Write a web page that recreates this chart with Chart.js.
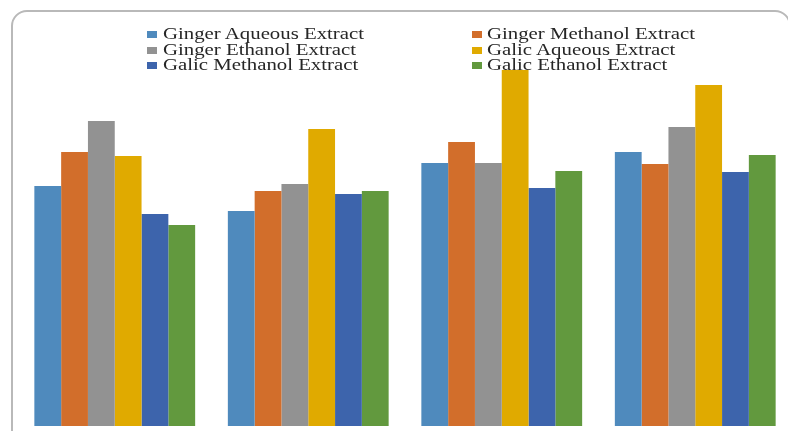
<!DOCTYPE html>
<html>
<head>
<meta charset="utf-8">
<script src="https://cdn.jsdelivr.net/npm/chart.js@4/dist/chart.umd.min.js"></script>
<style>
  html, body { margin: 0; padding: 0; background: #fff; overflow: hidden; }
  #wrap { position: relative; width: 788px; height: 431px; overflow: hidden; }
  #frame {
    position: absolute; left: 11px; top: 10px; width: 780px; height: 440px;
    border: 2px solid #b9b9b9; border-radius: 16px; box-sizing: border-box;
  }
  #chartBox { position: absolute; left: 0; top: 0; width: 800px; height: 431px; }
  #legend { position: absolute; left: 0; top: 0; width: 788px; height: 80px; pointer-events: none; }
  .sw { position: absolute; width: 10px; height: 7px; }
  .lbl {
    position: absolute; font-family: "Liberation Serif", "Times New Roman", serif;
    font-size: 16px; line-height: 16px; color: #262626; white-space: nowrap;
    transform: scaleX(1.3); transform-origin: 0 0;
  }
</style>
</head>
<body>
<div id="wrap">
  <div id="frame"></div>
  <div id="chartBox"><canvas id="c"></canvas></div>
  <div id="legend"></div>
</div>
<script>
// Sample groups
const categories = ['1', '2', '3', '4'];

const seriesNames = [
  'Ginger Aqueous Extract',
  'Ginger Methanol Extract',
  'Ginger Ethanol Extract',
  'Galic Aqueous Extract',
  'Galic Methanol Extract',
  'Galic Ethanol Extract'
];

const gingerAqueous  = [24.0, 21.5, 26.3, 27.4];
const gingerMethanol = [27.4, 23.5, 28.4, 26.2];
const gingerEthanol  = [30.5, 24.2, 26.3, 29.9];
const galicAqueous   = [27.0, 29.7, 35.6, 34.1];
const galicMethanol  = [21.2, 23.2, 23.8, 25.4];
const galicEthanol   = [20.1, 23.5, 25.5, 27.1];

const seriesValues = [gingerAqueous, gingerMethanol, gingerEthanol, galicAqueous, galicMethanol, galicEthanol];
const seriesColors = ['#4f8abd', '#d26e2b', '#929292', '#e0aa00', '#3d64ac', '#62993e'];

const datasets = seriesNames.map((name, i) => ({
  label: name,
  data: seriesValues[i],
  backgroundColor: seriesColors[i],
  borderWidth: 0,
  barPercentage: 1.0,
  categoryPercentage: 0.831
}));

new Chart(document.getElementById('c'), {
  type: 'bar',
  data: { labels: categories, datasets },
  options: {
    responsive: true,
    maintainAspectRatio: false,
    animation: false,
    layout: { padding: { left: 18, right: 8, top: 26, bottom: 5 } },
    plugins: { legend: { display: false }, tooltip: { enabled: false } },
    scales: {
      x: { display: false, grid: { display: false } },
      y: { display: false, min: 0, max: 40, grid: { display: false } }
    }
  }
});

// Two-column legend, filled row by row
const legend = document.getElementById('legend');
const colX = [[147, 163], [472, 487]];
const rowTop = [26, 41.5, 57];
const rowSw = [31, 46.5, 62];
seriesNames.forEach((name, i) => {
  const col = i % 2, row = Math.floor(i / 2);
  const sw = document.createElement('div');
  sw.className = 'sw';
  sw.style.left = colX[col][0] + 'px';
  sw.style.top = rowSw[row] + 'px';
  sw.style.background = seriesColors[i];
  legend.appendChild(sw);
  const t = document.createElement('div');
  t.className = 'lbl';
  t.style.left = colX[col][1] + 'px';
  t.style.top = rowTop[row] + 'px';
  t.textContent = name;
  legend.appendChild(t);
});
</script>
</body>
</html>
